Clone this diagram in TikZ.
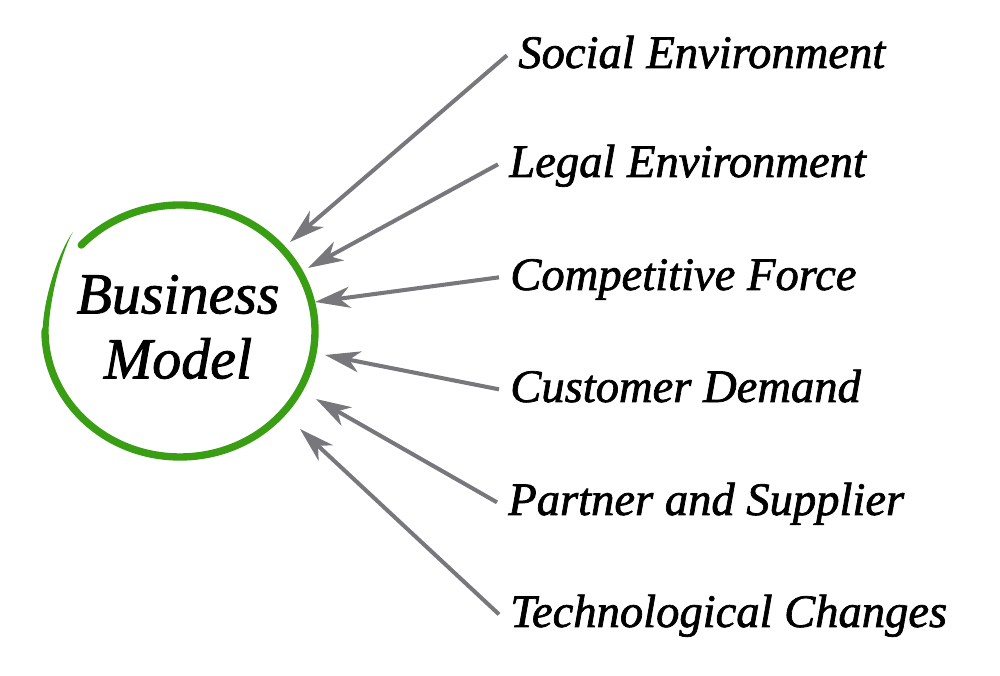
\documentclass[tikz,border=0pt]{standalone}
\usepackage{fontspec}
\setmainfont{Liberation Serif}
\newfontfamily\heavyserif{Liberation Serif}[FakeBold=1.5]
\usetikzlibrary{arrows.meta}
\definecolor{ringgreen}{RGB}{58,158,20}
\definecolor{arrowgray}{RGB}{120,120,124}
\tikzset{
  ringln/.style={line width=4.2pt, ringgreen, line cap=round},
  feedln/.style={-{Stealth[length=20pt,width=12pt,inset=6pt]}, line width=2.3pt, arrowgray},
  factor/.style={anchor=base west, inner xsep=0.22cm, inner ysep=0pt,
    text height=21pt, text depth=6.6pt, font=\heavyserif\fontsize{26.5}{30}\selectfont\itshape},
  core/.style={align=center, font=\heavyserif\fontsize{33}{37}\selectfont\itshape},
}

\begin{document}
\begin{tikzpicture}
    \useasboundingbox (0,0) rectangle (20,13.52);
    \coordinate (c) at (3.6,6.9);
    % hand-drawn ring
    \draw[ringln] ([shift={(137:2.7cm and 2.52cm)}]c)
      arc[start angle=137, end angle=-180, x radius=2.7, y radius=2.52];
    % thin tail of the brush stroke
    \fill[ringgreen] (0.85,6.9) .. controls (0.88,7.67) and (1.22,8.56) .. (1.46,8.88)
      .. controls (1.28,8.58) and (1.00,7.67) .. (0.97,6.9) -- cycle;
    \node[core] (bm) at (3.56,6.98) {Business\\Model};
    % factors
    \node[factor] (soc) at (10.14,12.16) {Social Environment};
    \node[factor] (leg) at (9.96,9.98) {Legal Environment};
    \node[factor] (comp) at (9.98,7.72) {Competitive Force};
    \node[factor] (cust) at (9.98,5.48) {Customer Demand};
    \node[factor] (part) at (9.94,3.22) {Partner and Supplier};
    \node[factor] (tech) at (9.98,0.98) {Technological Changes};
    % arrow ends at the ring
    \coordinate (t1) at (5.80,8.68);
    \coordinate (t2) at (6.16,8.16);
    \coordinate (t3) at (6.30,7.48);
    \coordinate (t4) at (6.50,6.42);
    \coordinate (t5) at (6.32,5.54);
    \coordinate (t6) at (6.00,4.94);
    \draw[feedln] (soc.west) -- (t1);
    \draw[feedln] (leg.west) -- (t2);
    \draw[feedln] (comp.west) -- (t3);
    \draw[feedln] (cust.west) -- (t4);
    \draw[feedln] (part.west) -- (t5);
    \draw[feedln] (tech.west) -- (t6);
\end{tikzpicture}
\end{document}
